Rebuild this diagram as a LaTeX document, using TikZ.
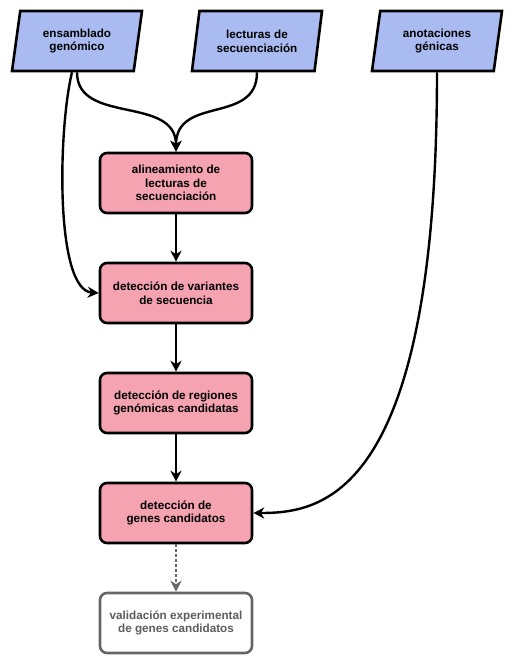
\documentclass[tikz,border=0pt]{standalone}
\usepackage{fontspec}
\setmainfont{Liberation Sans}
\usepackage{tikz}
\usetikzlibrary{arrows.meta,shapes.geometric,calc}
\definecolor{datablue}{HTML}{A9BBF0}
\definecolor{steppink}{HTML}{F5A3B1}
\definecolor{futuregray}{HTML}{666666}

\begin{document}
\begin{tikzpicture}[x=1pt,y=-1pt,
    datos/.style={trapezium, trapezium left angle=71.6, trapezium right angle=108.4,
        trapezium stretches body=true, minimum width=130, minimum height=60, inner sep=0,
        draw, line width=2.6pt, fill=datablue, align=center,
        font=\fontsize{11.7}{13.8}\selectfont\bfseries},
    paso/.style={rectangle, rounded corners=7pt, minimum width=152, minimum height=60,
        draw, line width=2.6pt, fill=steppink, align=center,
        font=\fontsize{11.7}{13.8}\selectfont\bfseries},
    futuro/.style={paso, fill=white, draw=futuregray, text=futuregray!90!black},
    flecha/.style={line width=2.4pt, -{Stealth[length=11pt,width=11pt,inset=3.5pt]}}]
    \useasboundingbox (0,0) rectangle (513,665);

    % entradas
    \node[datos] (ensamblado) at (77,41) {ensamblado\\genómico};
    \node[datos] (lecturas) at (257,41) {lecturas de\\secuenciación};
    \node[datos] (anotaciones) at (437,41) {anotaciones\\génicas};

    % pasos del flujo
    \node[paso] (alineamiento) at (176,183) {alineamiento de\\lecturas de\\secuenciación};
    \node[paso] (variantes) at (176,293) {detección de variantes\\de secuencia};
    \node[paso] (regiones) at (176,403) {detección de regiones\\genómicas candidatas};
    \node[paso] (genes) at (176,513) {detección de\\genes candidatos};
    \node[futuro] (validacion) at (176,623) {validación experimental\\de genes candidatos};

    % conexiones
    \draw[flecha] (ensamblado.center |- ensamblado.south) .. controls (77,125) and (176,95) .. (alineamiento.north);
    \draw[flecha] (lecturas.center |- lecturas.south) .. controls (257,125) and (176,95) .. (alineamiento.north);
    \draw[flecha] ($(ensamblado.center |- ensamblado.south)+(-5,0)$) .. controls (58,130) and (55,290) .. (variantes.west);
    \draw[flecha] (anotaciones.center |- anotaciones.south) .. controls (437,500) and (320,513) .. (genes.east);
    \draw[flecha] (alineamiento) -- (variantes);
    \draw[flecha] (variantes) -- (regiones);
    \draw[flecha] (regiones) -- (genes);
    \draw[flecha, futuregray, dash pattern=on 3pt off 2pt] (genes) -- (validacion);
\end{tikzpicture}
\end{document}
